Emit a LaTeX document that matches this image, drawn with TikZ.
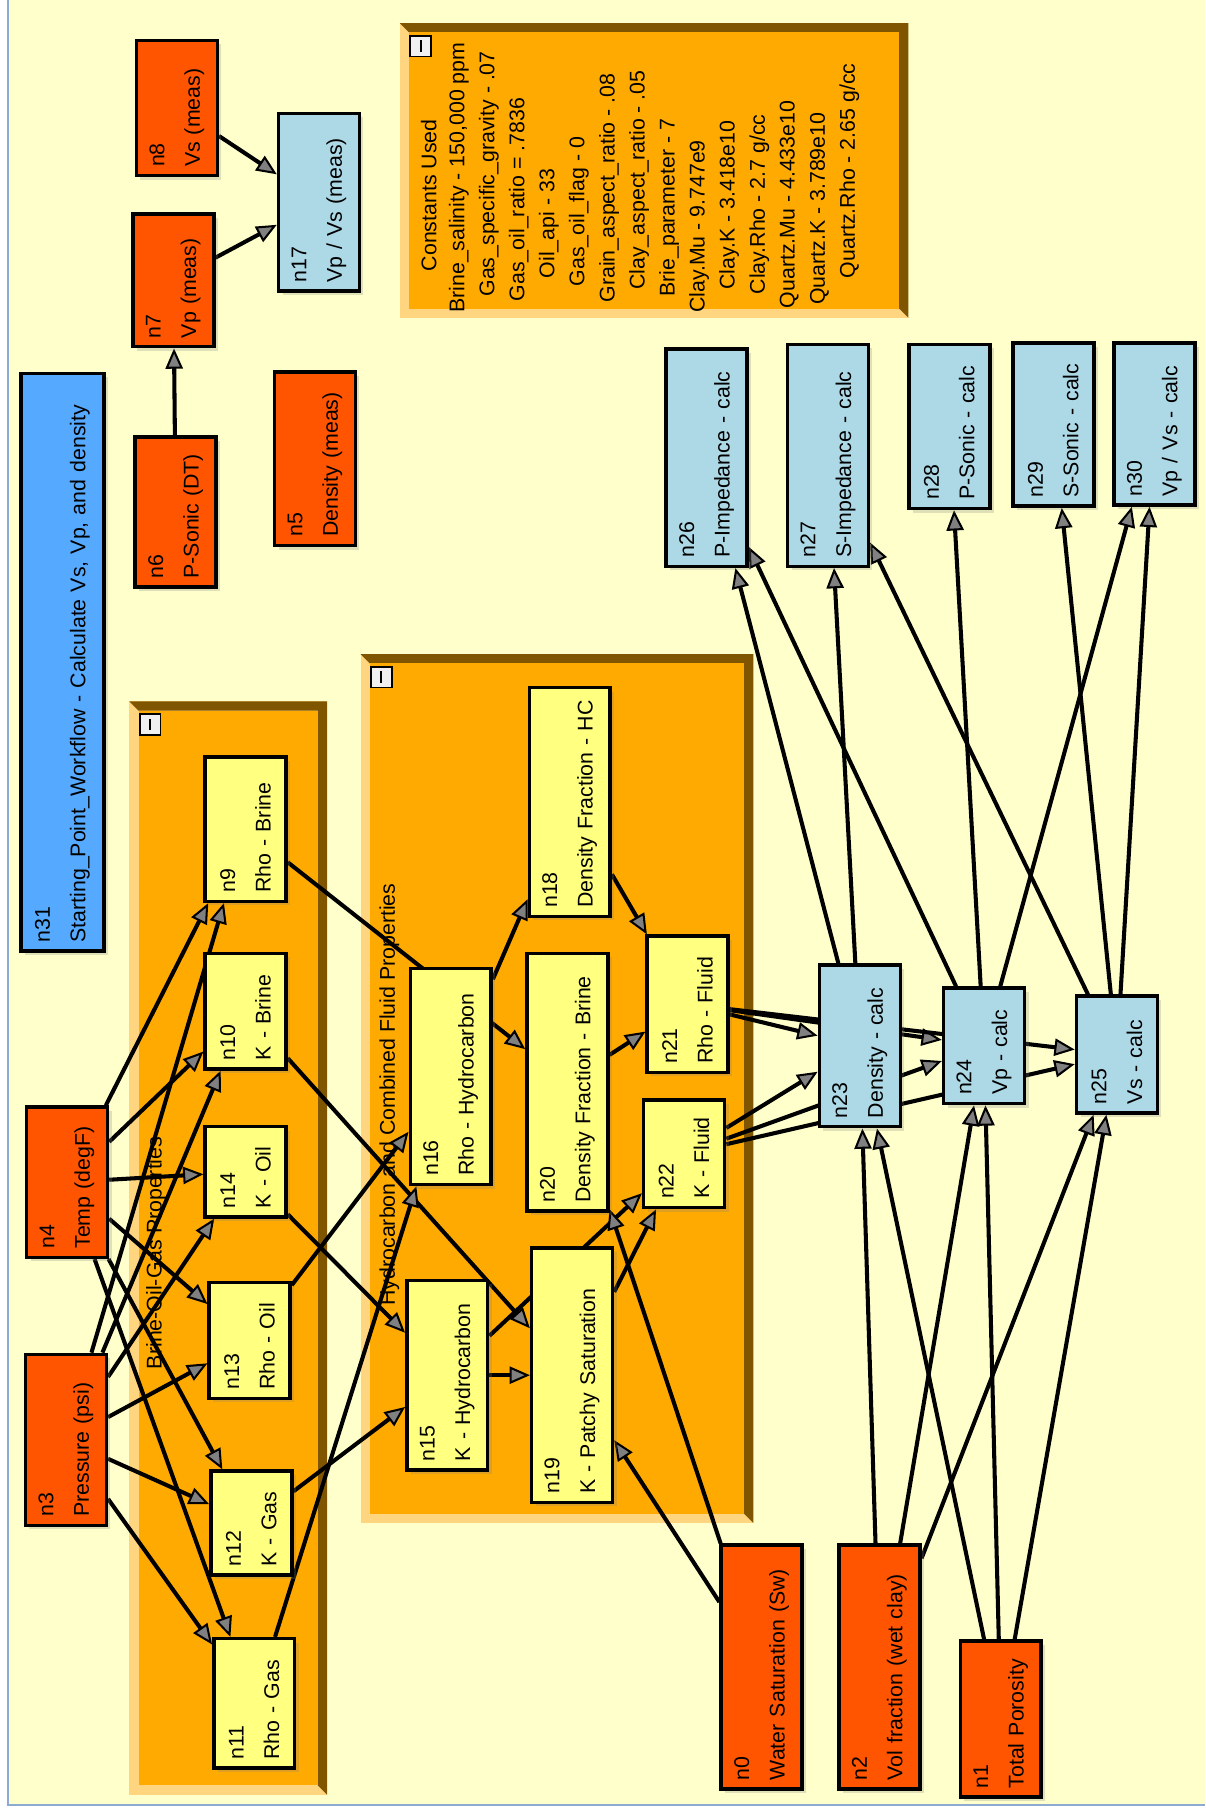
\documentclass[tikz,border=0pt]{standalone}
\usepackage{fontspec}
\setmainfont{Liberation Sans}
\usepackage{tikz}
\usetikzlibrary{arrows.meta, shadows}
\definecolor{paneyellow}{RGB}{255,255,204}
\definecolor{inorange}{RGB}{255,85,0}
\definecolor{procyellow}{RGB}{255,255,128}
\definecolor{calcblue}{RGB}{173,216,230}
\definecolor{startblue}{RGB}{85,170,255}
\definecolor{grporange}{RGB}{255,170,0}
\definecolor{grpdark}{RGB}{128,85,0}
\definecolor{grplight}{RGB}{255,213,128}
\definecolor{frameblue}{RGB}{140,170,210}
\pgfdeclarelayer{panels}
\pgfdeclarelayer{wires}
\pgfsetlayers{panels,wires,main}

\begin{document}
\begin{tikzpicture}[x=0.2mm, y=-0.2mm,
  font=\fontsize{10.5}{17.5}\selectfont,
  blk/.style={draw=black, line width=1.7pt, rotate=90, align=left,
    inner xsep=1.5mm, inner ysep=0pt, minimum height=14mm,
    drop shadow={shadow xshift=0.7mm, shadow yshift=-0.7mm, opacity=0.25}},
  input/.style={blk, fill=inorange},
  proc/.style={blk, fill=procyellow},
  calc/.style={blk, fill=calcblue},
  wire/.style={line width=2pt, -{Triangle[length=10pt, width=8.5pt, fill=gray, line width=1pt]}},
  grouptitle/.style={rotate=90, anchor=west, inner sep=0pt}
]
  \useasboundingbox (0,0) rectangle (1043,1568);

  \begin{pgfonlayer}{panels}
    % window
    \fill[white] (0,0) rectangle (1043,1568);
    \fill[paneyellow] (7,0) rectangle (1043,1562);
    \draw[frameblue, line width=1pt] (7,0) -- (7,1562) -- (1043,1562);
    % group panels
    \foreach \xa/\ya/\xb/\yb in {346/20/786/275, 112/607/283/1553, 312/566/652/1318}{
      \fill[grplight] (\xa,\ya) rectangle (\xb,\yb);
      \fill[grpdark] (\xa,\ya) -- (\xb,\ya) -- (\xb,\yb) -- (\xb-8,\yb-8)
        -- (\xb-8,\ya+8) -- (\xa+8,\ya+8) -- cycle;
      \fill[grporange] (\xa+8,\ya+8) rectangle (\xb-8,\yb-8);
      \draw[fill=gray!12, line width=0.8pt] (\xa+9,\ya+11) rectangle ++(18,18);
      \draw[line width=1pt] (\xa+18,\ya+15) -- ++(0,10);
    }
    \node[grouptitle] (g1title) at (135,1185) {Brine-Oil-Gas Properties};
    \node[grouptitle] (g2title) at (337,1130) {Hydrocarbon and Combined Fluid Properties};
    % constants
    \foreach \px/\py/\txt [count=\k] in {371/235/{Constants Used},
        397/271/{Brine\_salinity - 150,000 ppm}, 423/257/{Gas\_specific\_gravity - .07},
        449/261/{Gas\_oil\_ratio = .7836}, 475/241/{Oil\_api - 33},
        501/248/{Gas\_oil\_flag - 0}, 527/262/{Grain\_aspect\_ratio - .08},
        553/251/{Clay\_aspect\_ratio - .05}, 579/257/{Brie\_parameter - 7},
        605/271/{Clay.Mu - 9.747e9}, 631/251/{Clay.K - 3.418e10},
        657/255/{Clay.Rho - 2.7 g/cc}, 683/267/{Quartz.Mu - 4.433e10},
        709/264/{Quartz.K - 3.789e10}, 735/241/{Quartz.Rho - 2.65 g/cc}}
      \node[grouptitle] (const\k) at (\px,\py) {\txt};
  \end{pgfonlayer}

  % measured inputs
  \node[blk, fill=startblue, text width=97mm, minimum height=14.4mm] (n31) at (54,573)
    {n31\\Starting\_Point\_Workflow - Calculate Vs, Vp, and density};
  \node[input, text width=23mm] (n6) at (152,443) {n6\\P-Sonic (DT)};
  \node[input, text width=20mm] (n7) at (150,242.5) {n7\\Vp (meas)};
  \node[input, text width=20.4mm] (n8) at (153,93.5) {n8\\Vs (meas)};
  \node[calc, text width=27.8mm] (n17) at (276,175) {n17\\Vp / Vs (meas)};
  \node[input, text width=27mm] (n5) at (272.5,397) {n5\\Density (meas)};
  \node[input, text width=23mm] (n4) at (58,1023) {n4\\Temp (degF)};
  \node[input, text width=26.6mm] (n3) at (57,1246) {n3\\Pressure (psi)};

  % brine, oil, gas
  \node[proc, text width=22mm] (n9) at (212.5,717.5) {n9\\Rho - Brine};
  \node[proc, text width=17mm] (n10) at (212.5,875) {n10\\K - Brine};
  \node[proc, text width=12.6mm] (n14) at (212.5,1014) {n14\\K - Oil};
  \node[proc, text width=17mm] (n13) at (216,1160) {n13\\Rho - Oil};
  \node[proc, text width=15mm] (n12) at (217.5,1318) {n12\\K - Gas};
  \node[proc, text width=19.4mm] (n11) at (220,1474) {n11\\Rho - Gas};

  % hydrocarbon and fluid
  \node[proc, text width=34.4mm] (n16) at (390,931.5) {n16\\Rho - Hydrocarbon};
  \node[proc, text width=29.8mm] (n15) at (387,1190) {n15\\K - Hydrocarbon};
  \node[proc, text width=36.6mm] (n18) at (493,694) {n18\\Density Fraction - HC};
  \node[proc, text width=41.6mm] (n20) at (491,936.5) {n20\\Density Fraction - Brine};
  \node[proc, text width=41mm] (n19) at (495,1190) {n19\\K - Patchy Saturation};
  \node[proc, text width=20.6mm] (n21) at (595,869) {n21\\Rho - Fluid};
  \node[proc, text width=15.6mm] (n22) at (592,998.5) {n22\\K - Fluid};

  % calculated
  \node[calc, text width=25mm] (n23) at (744,905) {n23\\Density - calc};
  \node[calc, text width=17mm] (n24) at (851.5,905) {n24\\Vp - calc};
  \node[calc, text width=17.2mm] (n25) at (966.5,912.5) {n25\\Vs - calc};
  \node[calc, text width=34.6mm] (n26) at (611.5,396) {n26\\P-Impedance - calc};
  \node[calc, text width=35.4mm] (n27) at (716.5,394) {n27\\S-Impedance - calc};
  \node[calc, text width=25.4mm] (n28) at (821.5,369) {n28\\P-Sonic - calc};
  \node[calc, text width=25.2mm] (n29) at (911.5,367.5) {n29\\S-Sonic - calc};
  \node[calc, text width=25mm] (n30) at (999,367) {n30\\Vp / Vs - calc};

  % log inputs
  \node[input, text width=39.2mm] (n0) at (659,1442.5) {n0\\Water Saturation (Sw)};
  \node[input, text width=39.2mm] (n2) at (761,1442.5) {n2\\Vol fraction (wet clay)};
  \node[input, text width=24mm] (n1) at (866,1487.5) {n1\\Total Porosity};

  \begin{pgfonlayer}{wires}
    \foreach \a/\b in {n6/n7, n7/n17, n8/n17,
        n4/n9, n4/n10, n4/n14, n4/n13, n4/n12, n4/n11,
        n3/n9, n3/n10, n3/n14, n3/n13, n3/n12, n3/n11,
        n9/n20, n10/n19, n14/n15, n13/n16, n12/n15, n11/n16,
        n16/n18, n15/n19, n15/n22, n18/n21, n20/n21, n19/n22,
        n0/n19, n0/n20,
        n21/n23, n21/n24, n21/n25, n22/n23, n22/n24, n22/n25,
        n2/n23, n2/n24, n2/n25, n1/n23, n1/n24, n1/n25,
        n23/n26, n23/n27, n24/n26, n24/n28, n24/n30,
        n25/n27, n25/n29, n25/n30}
      \draw[wire] (\a) -- (\b);
  \end{pgfonlayer}
\end{tikzpicture}
\end{document}
